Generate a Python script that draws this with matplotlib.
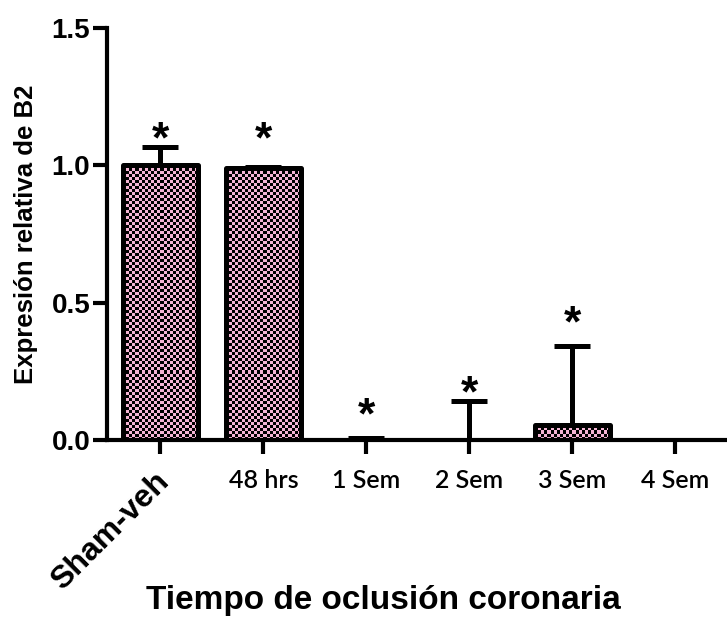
import matplotlib
matplotlib.use("Agg")
import matplotlib.pyplot as plt
import numpy as np

# data
groups = ["Sham-veh", "48 hrs", "1 Sem", "2 Sem", "3 Sem", "4 Sem"]
means = [1.0, 0.99, 0.0, 0.0, 0.055, 0.0]
sem_up = [0.065, 0.004, 0.006, 0.14, 0.285, 0.0]
star_y = [1.09, 1.09, 0.085, 0.165, 0.42, None]

pink = "#f4b4d4"
bar_w = 0.72

plt.rcParams["font.family"] = ["Liberation Sans", "DejaVu Sans"]

fig = plt.figure(figsize=(7.27, 6.32), dpi=100)
ax = fig.add_axes([0.147, 0.304, 0.853, 0.652])

x = np.arange(len(groups))

def checker(h, w):
    rows = max(int(round(91 * h)), 1)
    cols = int(round(w * 34))
    r, c = np.indices((rows, cols))
    m = (r + c) % 2
    img = np.zeros((rows, cols, 3))
    img[m == 0] = np.array(matplotlib.colors.to_rgb(pink))
    return img

for i in range(len(groups)):
    if means[i] <= 0:
        continue
    rect = ax.bar(x[i], means[i], width=bar_w, facecolor="none", edgecolor="black",
                  linewidth=3.6, joinstyle="round", zorder=3)[0]
    x0 = rect.get_x()
    im = ax.imshow(checker(means[i], bar_w), extent=[x0, x0 + bar_w, 0, means[i]],
                   interpolation="nearest", aspect="auto", zorder=2)
    im.set_clip_path(rect)

for i in range(len(groups)):
    if sem_up[i] > 0:
        ax.errorbar(x[i], means[i], yerr=[[0], [sem_up[i]]], fmt="none",
                    ecolor="black", elinewidth=3.6, capsize=13, capthick=3.6,
                    zorder=4)
    if star_y[i] is not None:
        ax.text(x[i], star_y[i], "*", ha="center", va="center",
                fontsize=32, fontweight="bold")

ax.set_xlim(-0.52, 5.5)
ax.set_ylim(0, 1.5)
ax.set_yticks([0, 0.5, 1.0, 1.5])
ax.set_yticklabels(["0.0", "0.5", "1.0", "1.5"], fontsize=20, fontweight="bold")
ax.set_xticks(x)
ax.set_xticklabels([""] + groups[1:], family="Lato", fontsize=18, fontweight="semibold")

# rotated first label, placed by hand like in the original figure
ax.annotate(groups[0], xy=(x[0], 0), xycoords=("data", "axes fraction"),
            xytext=(-5, -19), textcoords="offset points", rotation=45,
            ha="right", va="top", rotation_mode="anchor",
            fontsize=23, fontweight="bold", annotation_clip=False)

ax.spines["top"].set_visible(False)
ax.spines["right"].set_visible(False)
for s in ["left", "bottom"]:
    ax.spines[s].set_linewidth(3)
ax.tick_params(axis="both", direction="out", length=10, width=3, colors="black")
ax.tick_params(axis="x", pad=11)
ax.tick_params(axis="y", pad=2)

ax.set_ylabel("Expresión relativa de B2", fontsize=18.5, fontweight="bold", labelpad=10)
fig.text(0.528, 0.05, "Tiempo de oclusión coronaria", ha="center", va="center",
         fontsize=24, fontweight="bold")

fig.savefig("out.png", dpi=100)
